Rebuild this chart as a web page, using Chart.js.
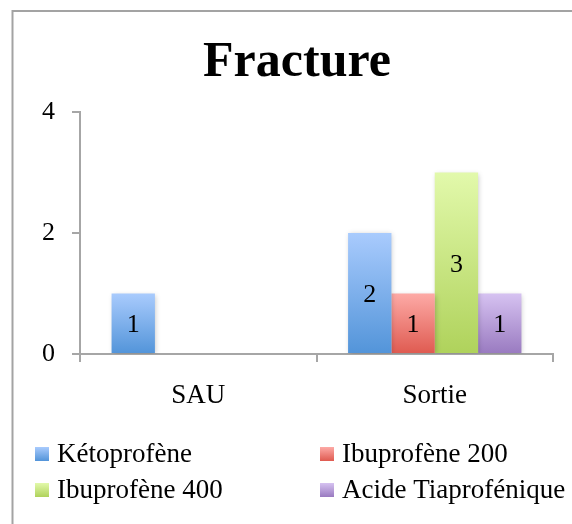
<!DOCTYPE html>
<html>
<head>
<meta charset="utf-8">
<script src="https://cdn.jsdelivr.net/npm/chart.js@4"></script>
<style>
  html, body { margin: 0; padding: 0; background: #fff; }
  #wrap { width: 572px; height: 524px; position: relative; }
</style>
</head>
<body>
<div id="wrap"><canvas id="chart-fracture"></canvas></div>
<script>
const categories = ['SAU', 'Sortie'];
const seriesNames = ['Kétoprofène', 'Ibuprofène 200', 'Ibuprofène 400', 'Acide Tiaprofénique'];
const ketoprofene = [1, 2];
const ibuprofene200 = [null, 1];
const ibuprofene400 = [null, 3];
const acideTiaprofenique = [null, 1];
const yTicks = [0, 2, 4];

// top / bottom colour of each series' gradient
const shades = [
  ['#a9cbfd', '#5294d9'],
  ['#fdaaa6', '#df5a50'],
  ['#e2f9ab', '#afd25b'],
  ['#d6c2f1', '#997ac0'],
];

const FONT = "'Liberation Serif', 'Times New Roman', serif";
const AXIS_GREY = '#a6a6a6';

function barFill(i) {
  return (c) => {
    const [top, bottom] = shades[i];
    const y = c.chart.scales.y;
    if (!c.chart.chartArea || !y || c.raw == null) return bottom;
    const y0 = y.getPixelForValue(0);
    const y1 = y.getPixelForValue(c.raw);
    if (Math.abs(y0 - y1) < 1) return bottom;
    const g = c.chart.ctx.createLinearGradient(0, y1, 0, y0);
    g.addColorStop(0, top);
    g.addColorStop(1, bottom);
    return g;
  };
}

const frame = {
  id: 'frame',
  beforeDraw(chart) {
    const ctx = chart.ctx;
    ctx.save();
    ctx.strokeStyle = '#a3a3a3';
    ctx.lineWidth = 2;
    ctx.strokeRect(12.5, 11, 700, 700);
    ctx.restore();
  }
};

const barDecor = {
  id: 'barDecor',
  beforeDatasetsDraw(chart) {
    const ctx = chart.ctx;
    ctx.save();
    ctx.shadowColor = 'rgba(0,0,0,0.22)';
    ctx.shadowBlur = 5;
    ctx.shadowOffsetX = 1;
    ctx.shadowOffsetY = 1;
  },
  afterDatasetsDraw(chart) {
    const ctx = chart.ctx;
    ctx.restore();
    ctx.save();
    ctx.font = '26px ' + FONT;
    ctx.fillStyle = '#000';
    ctx.textAlign = 'center';
    ctx.textBaseline = 'middle';
    chart.data.datasets.forEach((ds, i) => {
      chart.getDatasetMeta(i).data.forEach((bar, j) => {
        const v = ds.data[j];
        if (v == null) return;
        ctx.fillText(String(v), bar.x, (bar.y + bar.base) / 2 + 2);
      });
    });
    ctx.restore();
  }
};

const sideLegend = {
  id: 'sideLegend',
  afterDraw(chart) {
    const ctx = chart.ctx;
    const cols = [35, 320];
    const rows = [462, 498];
    ctx.save();
    ctx.font = '27px ' + FONT;
    ctx.fillStyle = '#000';
    ctx.textBaseline = 'alphabetic';
    chart.data.datasets.forEach((ds, i) => {
      const x = cols[i % 2];
      const base = rows[Math.floor(i / 2)];
      const top = base - 15;
      const g = ctx.createLinearGradient(0, top, 0, top + 14);
      g.addColorStop(0, shades[i][0]);
      g.addColorStop(1, shades[i][1]);
      ctx.fillStyle = g;
      ctx.fillRect(x, top, 14, 14);
      ctx.fillStyle = '#000';
      ctx.fillText(ds.label, x + 22, base);
    });
    ctx.restore();
  }
};

const ctx = document.getElementById('chart-fracture').getContext('2d');
new Chart(ctx, {
  type: 'bar',
  data: {
    labels: categories,
    datasets: [ketoprofene, ibuprofene200, ibuprofene400, acideTiaprofenique].map((data, i) => ({
      label: seriesNames[i],
      data: data,
      backgroundColor: barFill(i),
      borderWidth: 0,
      categoryPercentage: 0.733,
      barPercentage: 1,
    }))
  },
  options: {
    responsive: true,
    maintainAspectRatio: false,
    animation: false,
    layout: { padding: { top: 10, left: 41, right: 19, bottom: 0 } },
    plugins: {
      legend: { display: false },
      tooltip: { enabled: false },
      title: {
        display: true,
        text: 'Fracture',
        color: '#000',
        font: { family: FONT, size: 50, weight: 'bold', lineHeight: 1.2 },
        padding: { top: 23, bottom: 19 },
      }
    },
    scales: {
      x: {
        grid: { drawOnChartArea: false, color: AXIS_GREY, lineWidth: 2, tickLength: 8 },
        border: { color: AXIS_GREY, width: 2 },
        ticks: { color: '#000', padding: 18, font: { family: FONT, size: 27, lineHeight: 1.2 } },
        afterFit: (scale) => { scale.height = 170; }
      },
      y: {
        min: yTicks[0],
        max: yTicks[yTicks.length - 1],
        afterBuildTicks: (scale) => { scale.ticks = yTicks.map(v => ({ value: v })); },
        grid: { drawOnChartArea: false, color: AXIS_GREY, lineWidth: 2, tickLength: 8 },
        border: { color: AXIS_GREY, width: 2 },
        ticks: { color: '#000', padding: 17, font: { family: FONT, size: 26, lineHeight: 1.2 } },
        afterFit: (scale) => { scale.width = 39; }
      }
    }
  },
  plugins: [frame, barDecor, sideLegend]
});
</script>
</body>
</html>
